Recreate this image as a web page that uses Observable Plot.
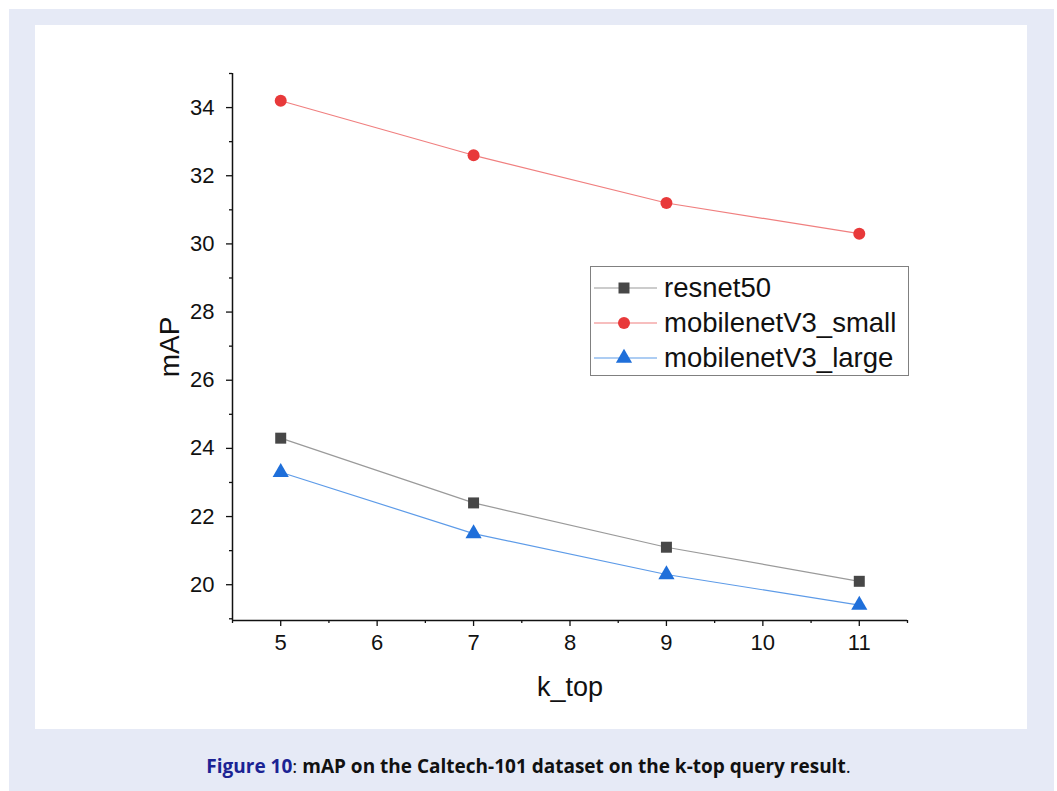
<!DOCTYPE html>
<html>
<head>
<meta charset="utf-8">
<script src="https://cdn.jsdelivr.net/npm/d3@7"></script>
<script src="https://cdn.jsdelivr.net/npm/@observablehq/plot@0.6"></script>
<style>
  html, body { margin: 0; padding: 0; background: #ffffff; }
  #outer { position: absolute; left: 9px; top: 9px; width: 1045px; height: 782px; background: #e6eaf6; }
  #panel { position: absolute; left: 35px; top: 25px; width: 992px; height: 704px; background: #ffffff; }
  #legend { position: absolute; left: 555px; top: 241px; width: 317px; height: 108px; border: 1px solid #808080; background: #fff;
            font-family: "Liberation Sans", Arial, sans-serif; font-size: 27.5px; color: #111; }
  .row { position: absolute; left: 0; height: 30px; display: flex; align-items: center; white-space: nowrap; }
  .row svg { display: block; }
  .row span { margin-left: 5px; }
  #caption { position: absolute; left: 0; width: 1057px; top: 753px; text-align: center; white-space: nowrap;
             font-family: "Open Sans", sans-serif; font-weight: 700; font-size: 19px; color: #111; letter-spacing: 0px; }
  #caption b { color: #1b2394; font-weight: 700; }
  #caption i { font-style: normal; font-weight: 400; }
</style>
</head>
<body>
<div id="outer"></div>
<div id="panel"><div id="chart"></div><div id="legend"></div></div>
<div id="caption"><b>Figure 10</b><i>:</i> mAP on the Caltech-101 dataset on the k-top query result<i>.</i></div>
<script>
const kTop = [5, 7, 9, 11];
const resnet50 = [24.3, 22.4, 21.1, 20.1];
const mobileSmall = [34.2, 32.6, 31.2, 30.3];
const mobileLarge = [23.3, 21.5, 20.3, 19.4];
const seriesNames = ["resnet50", "mobilenetV3_small", "mobilenetV3_large"];
const xMajor = [5, 6, 7, 8, 9, 10, 11];
const xMinor = [4.5, 5.5, 6.5, 7.5, 8.5, 9.5, 10.5, 11.5];
const yMajor = [20, 22, 24, 26, 28, 30, 32, 34];
const yMinor = [19, 21, 23, 25, 27, 29, 31, 33, 35];

const styles = {
  "resnet50": {line: "#9a9a9a", mark: "#474747", symbol: "square", r: 6.2},
  "mobilenetV3_small": {line: "#f07f7f", mark: "#e8393a", symbol: "circle", r: 6},
  "mobilenetV3_large": {line: "#5d9be8", mark: "#1f6fda", symbol: "triangle", r: 6}
};

const valuesBySeries = [resnet50, mobileSmall, mobileLarge];
const data = [];
seriesNames.forEach((s, i) => kTop.forEach((k, j) => data.push({series: s, k, v: valuesBySeries[i][j]})));

const font = "Liberation Sans, Arial, sans-serif";
const marks = [];
marks.push(Plot.ruleX([4.5], {stroke: "#111", strokeWidth: 1.5}));
marks.push(Plot.ruleY([18.95], {stroke: "#111", strokeWidth: 1.5}));
marks.push(Plot.axisX({ticks: xMajor, tickSize: 6, tickPadding: 8, fontSize: 22, label: null, tickFormat: d => String(d), strokeWidth: 1.3}));
marks.push(Plot.axisX({ticks: xMinor, tickSize: 3, text: null, label: null, strokeWidth: 1.3}));
marks.push(Plot.axisY({ticks: yMajor, tickSize: 6, tickPadding: 12, fontSize: 22, label: null, tickFormat: d => String(d), strokeWidth: 1.3}));
marks.push(Plot.axisY({ticks: yMinor, tickSize: 3, text: null, label: null, strokeWidth: 1.3}));
for (const s of seriesNames) {
  const st = styles[s];
  const d = data.filter(e => e.series === s);
  marks.push(Plot.line(d, {x: "k", y: "v", stroke: st.line, strokeWidth: 1.2}));
  marks.push(Plot.dot(d, {x: "k", y: "v", symbol: st.symbol, fill: st.mark, r: st.r, stroke: "none"}));
}
marks.push(Plot.text(["k_top"], {frameAnchor: "bottom", dy: 75, fontSize: 27, fill: "#111", text: d => d}));
marks.push(Plot.text(["mAP"], {frameAnchor: "left", dx: -62, rotate: -90, textAnchor: "middle", fontSize: 28, fill: "#111", text: d => d}));

const chart = Plot.plot({
  width: 992,
  height: 704,
  marginLeft: 197,
  marginRight: 120,
  marginTop: 48,
  marginBottom: 109,
  style: {fontFamily: font, color: "#111", background: "transparent"},
  x: {domain: [4.5, 11.5]},
  y: {domain: [18.95, 35]},
  marks
});
document.getElementById("chart").appendChild(chart);

// legend
const legend = document.getElementById("legend");
seriesNames.forEach((s, i) => {
  const st = styles[s];
  const row = document.createElement("div");
  row.className = "row";
  row.style.top = (6 + i * 35) + "px";
  const sym = d3.symbol().type(st.symbol === "square" ? d3.symbolSquare : st.symbol === "circle" ? d3.symbolCircle : d3.symbolTriangle)
    .size(Math.PI * st.r * st.r)();
  row.innerHTML = `<svg width="68" height="30"><line x1="3" x2="66" y1="15" y2="15" stroke="${st.line}" stroke-width="1.2"/>` +
    `<path d="${sym}" transform="translate(33,15)" fill="${st.mark}"/></svg><span>${s}</span>`;
  legend.appendChild(row);
});
</script>
</body>
</html>
